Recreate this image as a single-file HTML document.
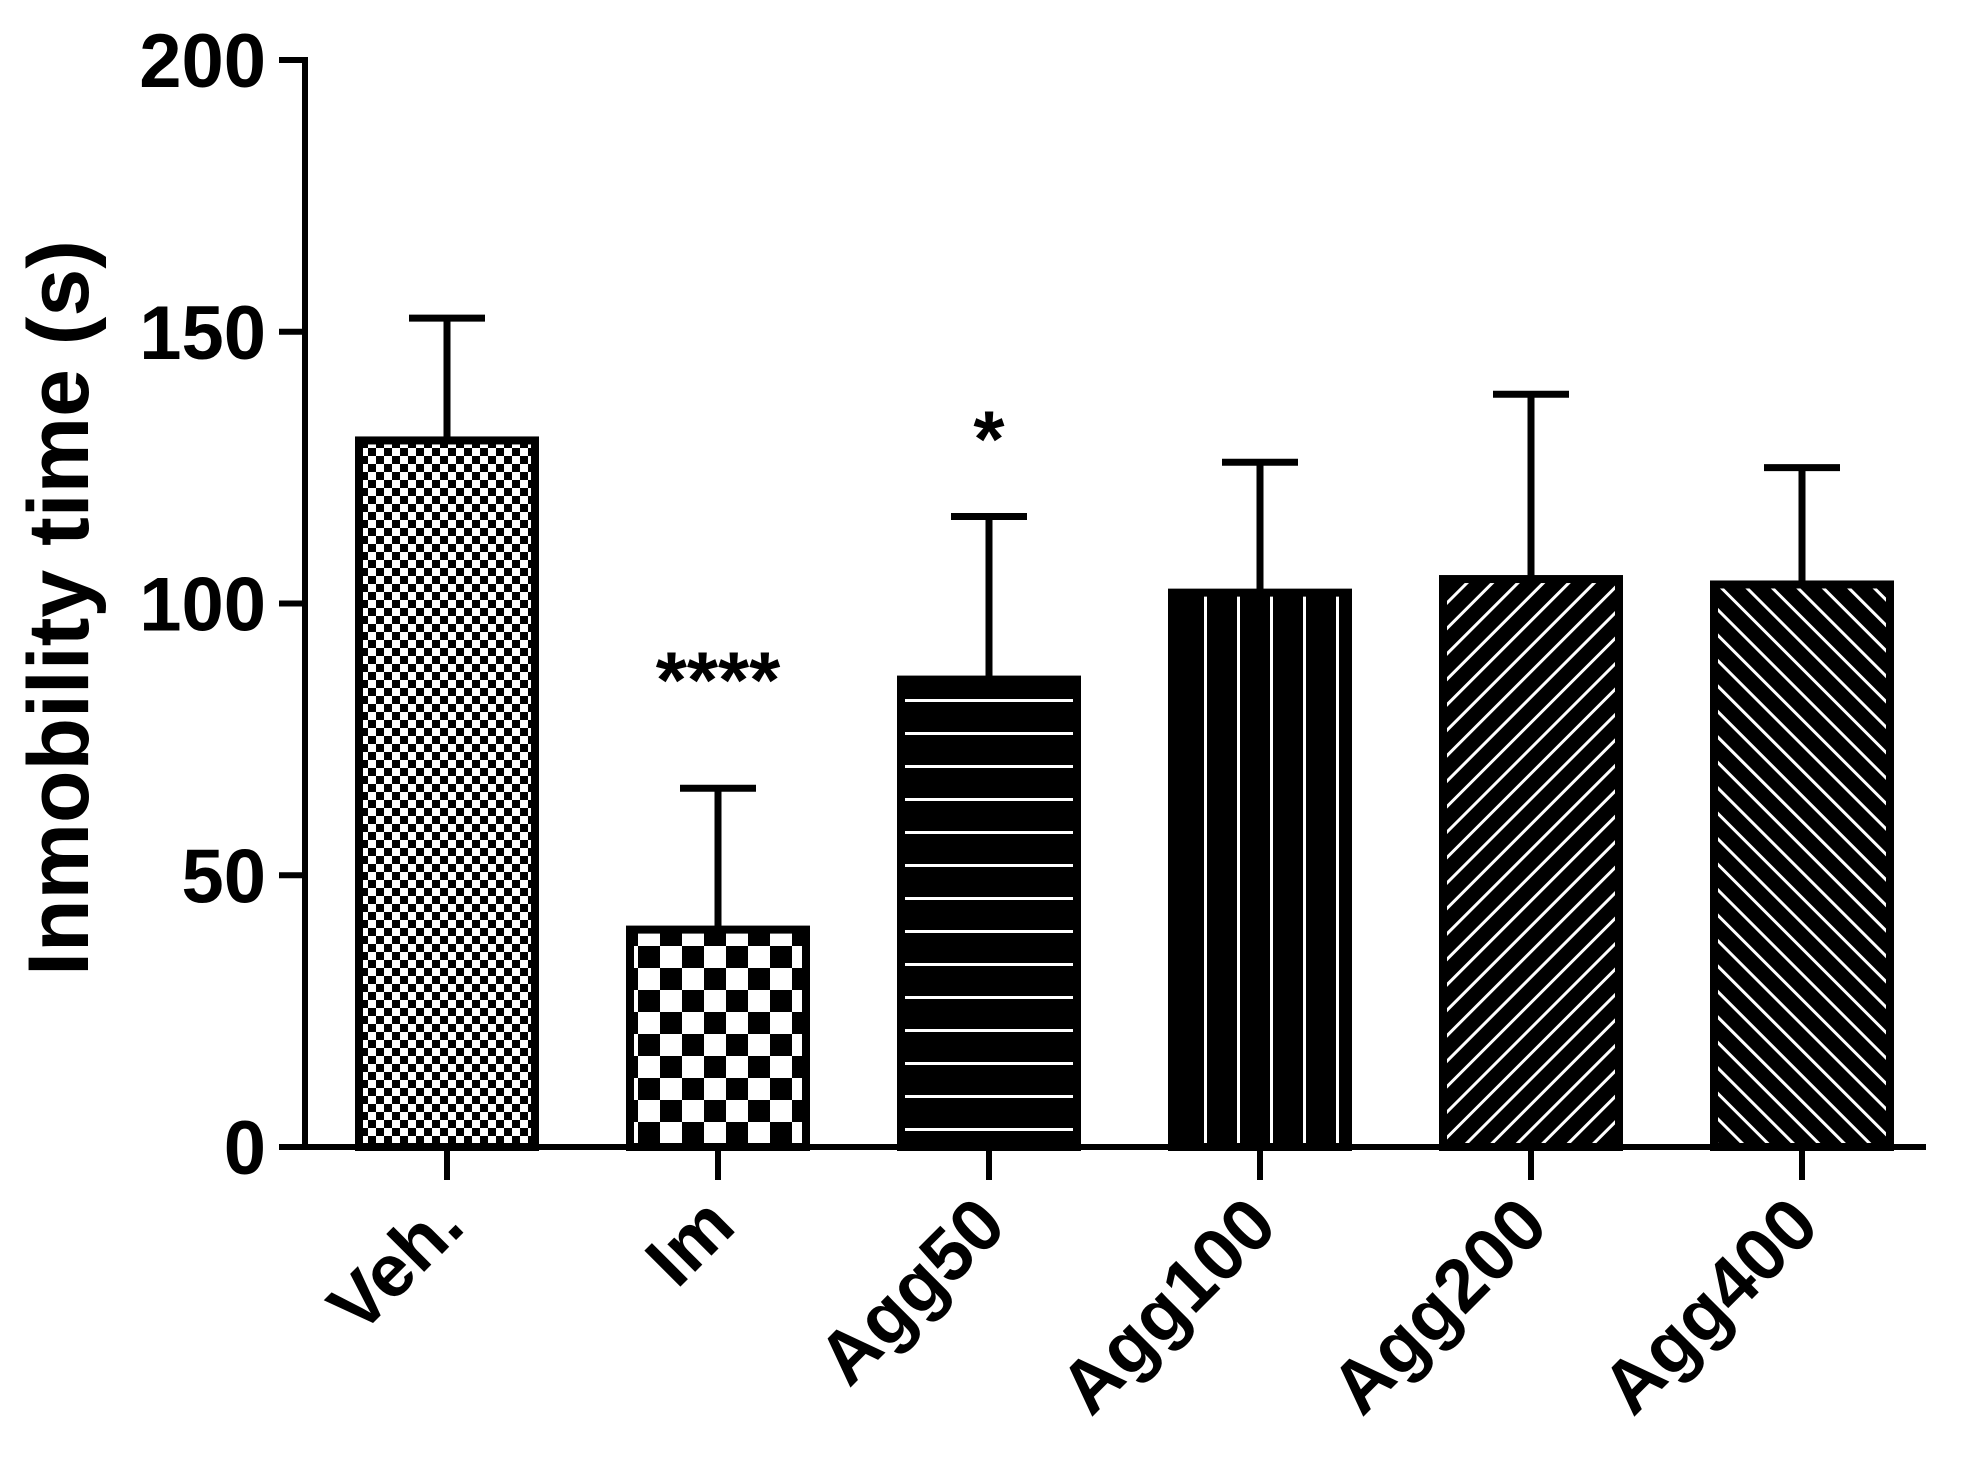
<!DOCTYPE html>
<html><head><meta charset="utf-8"><style>
html,body{margin:0;padding:0;background:#fff}
svg{display:block}
text{font-family:"Liberation Sans",Arial,sans-serif;font-weight:bold;fill:#000}
</style></head><body>
<svg id="chart" width="1968" height="1484" viewBox="0 0 1968 1484" xmlns="http://www.w3.org/2000/svg">
<defs>
<pattern id="p-fine" patternUnits="userSpaceOnUse" width="16" height="16"><rect width="16" height="16" fill="#fff"/><rect width="8" height="8" fill="#000"/><rect x="8" y="8" width="8" height="8" fill="#000"/></pattern>
<pattern id="p-coarse" patternUnits="userSpaceOnUse" width="44" height="44"><rect width="44" height="44" fill="#fff"/><rect width="22" height="22" fill="#000"/><rect x="22" y="22" width="22" height="22" fill="#000"/></pattern>
<pattern id="p-hlines" patternUnits="userSpaceOnUse" width="20" height="33" y="1147"><rect width="20" height="33" fill="#000"/><rect y="14" width="20" height="3" fill="#fff"/></pattern>
<pattern id="p-vlines" patternUnits="userSpaceOnUse" width="33" height="20" x="1190"><rect width="33" height="20" fill="#000"/><rect x="14" width="3" height="20" fill="#fff"/></pattern>
<pattern id="p-fwd" patternUnits="userSpaceOnUse" width="18" height="18" patternTransform="rotate(45)"><rect width="18" height="18" fill="#000"/><rect x="8" width="3" height="18" fill="#fff"/></pattern>
<pattern id="p-back" patternUnits="userSpaceOnUse" width="18" height="18" patternTransform="rotate(-45)"><rect width="18" height="18" fill="#000"/><rect x="8" width="3" height="18" fill="#fff"/></pattern>
</defs>
<g id="plot"></g>
</svg>
<script>
const categories = ["Veh.", "Im", "Agg50", "Agg100", "Agg200", "Agg400"];
const means = [130, 40, 86, 102, 104.5, 103.5];
const errTops = [152.5, 66, 116, 126, 138.5, 125];
const yTicks = [0, 50, 100, 150, 200];
const sigLabels = ["", "****", "*", "", "", ""];
const fills = ["p-fine", "p-coarse", "p-hlines", "p-vlines", "p-fwd", "p-back"];

const NS = "http://www.w3.org/2000/svg";
const g = document.getElementById("plot");
const X0 = 305, Y0 = 1147, YTOP = 60, YMAX = 200;
const y = v => Y0 - (v / YMAX) * (Y0 - YTOP);
const x = i => 447 + i * 271;
const BW = 176;
function mk(tag, attrs) { const e = document.createElementNS(NS, tag); for (const k in attrs) e.setAttribute(k, attrs[k]); g.appendChild(e); return e; }

categories.forEach((c, i) => {
  const cx = x(i);
  const eb = mk("line", {x1: cx, x2: cx, y1: y(means[i]), y2: y(errTops[i]), stroke: "#000", "stroke-width": 7});
  
  
  const cap = mk("line", {x1: cx - 38, x2: cx + 38, y1: y(errTops[i]), y2: y(errTops[i]), stroke: "#000", "stroke-width": 7});
  
  
  const r = mk("rect", {x: cx - BW / 2, y: y(means[i]), width: BW, height: Y0 - y(means[i]), fill: "url(#" + fills[i] + ")", stroke: "#000", "stroke-width": 8});
  
  
  const t = mk("line", {x1: cx, x2: cx, y1: Y0, y2: Y0 + 33, stroke: "#000", "stroke-width": 6});
  
  
  const lab = mk("text", {x: 0, y: 0, "font-size": 74, "text-anchor": "end", transform: "translate(" + (cx + 20) + "," + (Y0 + 82) + ") rotate(-45)"});
  lab.textContent = c;
  
  
  if (sigLabels[i]) {
    const off = sigLabels[i].length > 1 ? 121 : 90;
    const s = mk("text", {x: cx, y: y(errTops[i]) - off + 40, "font-size": 80, "text-anchor": "middle"});
    s.textContent = sigLabels[i];
    
    
  }
});

yTicks.forEach(v => {
  const t = mk("line", {x1: 279, x2: X0, y1: y(v), y2: y(v), stroke: "#000", "stroke-width": 6});
  
  
  const l = mk("text", {x: 266, y: y(v) + 27, "font-size": 76, "text-anchor": "end"});
  l.textContent = v;
  
  
});

const ya = mk("line", {x1: X0, x2: X0, y1: YTOP - 3, y2: Y0 + 3, stroke: "#000", "stroke-width": 6});


const xa = mk("line", {x1: 279, x2: 1926, y1: Y0, y2: Y0, stroke: "#000", "stroke-width": 6});


const yt = mk("text", {x: 0, y: 0, "font-size": 86, "text-anchor": "middle", transform: "translate(88,608) rotate(-90)"});
yt.textContent = "Inmobility time (s)";


</script>
</body></html>
